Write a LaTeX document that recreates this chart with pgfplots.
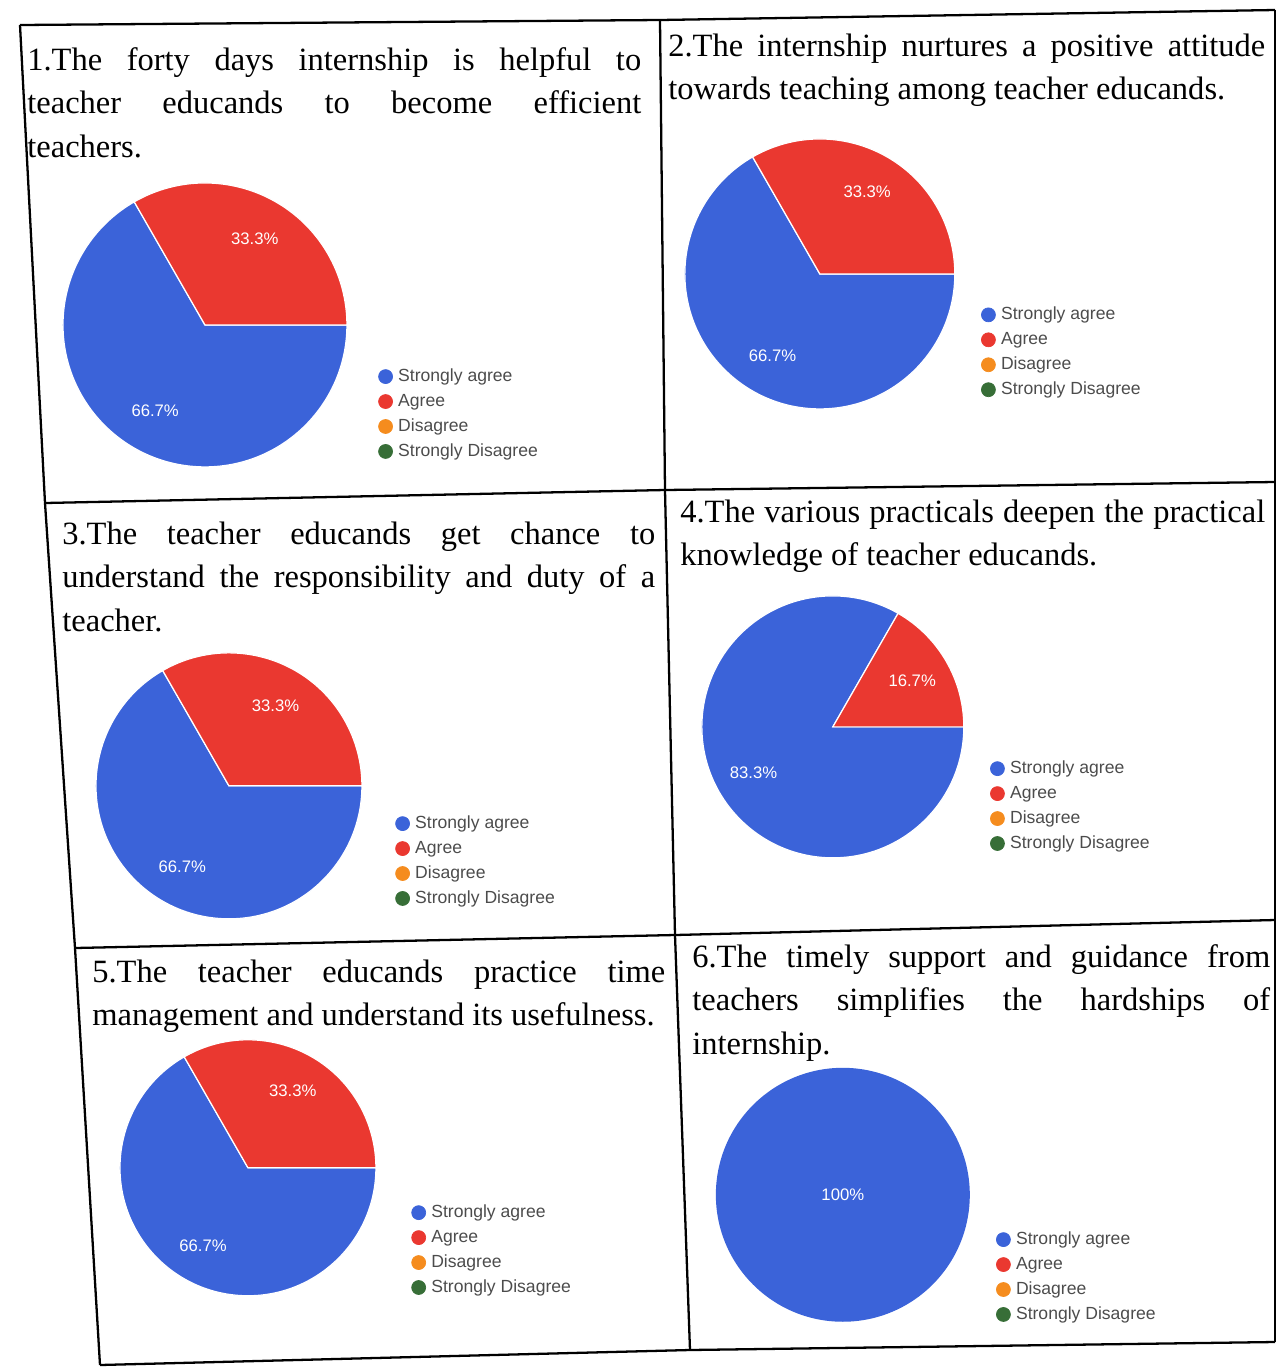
\documentclass[border=0pt]{standalone}
\usepackage{pgfplots}
\pgfplotsset{compat=1.18}
\usepackage{pgfplotstable}
\usepackage{fontspec}
\setmainfont{Liberation Serif}
\newfontfamily\lsans{Liberation Sans}

\definecolor{gblue}{RGB}{59,99,217}
\definecolor{gred}{RGB}{234,56,48}
\definecolor{gorange}{RGB}{245,140,30}
\definecolor{ggreen}{RGB}{55,110,55}

% percentage of answers per statement
\pgfplotstableread{
cat q1   q2   q3   q4   q5   q6
SA  66.7 66.7 66.7 83.3 66.7 100
A   33.3 33.3 33.3 16.7 33.3 0
D   0    0    0    0    0    0
SD  0    0    0    0    0    0
}\pietable

% slices start at 3 o'clock and run clockwise
\newcommand\drawpie[2]{%
 \pgfplotsextra{%
  \gdef\curang{0}%
  \foreach \rw/\clr in {0/gblue,1/gred,2/gorange,3/ggreen}{%
   \pgfplotstablegetelem{\rw}{#1}\of\pietable
   \let\val\pgfplotsretval
   \pgfmathsetmacro\sweep{3.6*\val}%
   \ifdim\sweep pt>0pt
    \pgfmathsetmacro\endang{\curang-\sweep}%
    \pgfmathsetmacro\midang{\curang-\sweep/2}%
    \ifdim\sweep pt<359pt
     \fill[\clr,draw=white,line width=0.7pt] (axis cs:0,0) -- ++(\curang:#2cm)
        arc[start angle=\curang,end angle=\endang,radius=#2cm] -- cycle;
     \pgfmathsetmacro\lx{0.7*cos(\midang)}%
     \pgfmathsetmacro\ly{0.7*sin(\midang)}%
    \else
     \fill[\clr] (axis cs:0,0) -- ++(\curang:#2cm)
        arc[start angle=\curang,end angle=\endang,radius=#2cm] -- cycle;
     \def\lx{0}\def\ly{0}%
    \fi
    \node[text=white,font=\lsans\fontsize{9.5}{11}\selectfont] at (axis cs:\lx,\ly) {\val\%};
    \xdef\curang{\endang}%
   \fi
  }%
 }%
}

\pgfplotsset{
 pie/.style={hide axis, xmin=-1, xmax=1, ymin=-1, ymax=1, anchor=center,
  legend image code/.code={\fill (0.14cm,0cm) circle (0.14cm);},
  legend style={draw=none, fill=none, inner sep=0pt, anchor=north west,
   row sep=4.6pt, column sep=1pt, text=black!70,
   font=\lsans\fontsize{10}{12}\selectfont,
   nodes={inner ysep=0pt, text height=7.4pt, text depth=2.2pt},
   cells={anchor=west}},
 },
}
\newcommand\pielegend{%
 \addlegendimage{gblue}\addlegendimage{gred}\addlegendimage{gorange}\addlegendimage{ggreen}%
 \legend{Strongly agree,Agree,Disagree,Strongly Disagree}}

\begin{document}
\begin{tikzpicture}
\begin{scope}[x=0.02cm,y=-0.02cm]
\useasboundingbox (0,0) rectangle (1278,1367);
\tikzset{txt/.style={inner sep=0pt, anchor=base west, align=justify,
  font=\fontsize{18.5}{24.8}\selectfont}}
% table rules
\draw[line width=1.3pt] (20,25) -- (45,503) -- (75,948) -- (100,1365);
\draw[line width=1.3pt] (660,20) -- (665,490) -- (675,935) -- (690,1350);
\draw[line width=1.3pt] (1275,10) -- (1275,1342);
\draw[line width=1.3pt] (20,25) -- (660,20) -- (1275,10);
\draw[line width=1.3pt] (45,503) -- (665,490) -- (1275,482);
\draw[line width=1.3pt] (75,948) -- (675,935) -- (1275,920);
\draw[line width=1.3pt] (100,1365) -- (690,1350) -- (1275,1342);
% statements
\node[txt, text width=12.28cm] at (27,70) {1.The forty days internship is helpful to\linebreak teacher educands to become efficient\linebreak teachers.};
\node[txt, text width=11.94cm] at (668,56) {2.The internship nurtures a positive attitude\linebreak towards teaching among teacher educands.};
\node[txt, text width=11.86cm] at (62,544) {3.The teacher educands get chance to\linebreak understand the responsibility and duty of a\linebreak teacher.};
\node[txt, text width=11.70cm] at (680,522) {4.The various practicals deepen the practical\linebreak knowledge of teacher educands.};
\node[txt, text width=11.46cm] at (92,982) {5.The teacher educands practice time\linebreak management and understand its usefulness.};
\node[txt, text width=11.56cm] at (692,967) {6.The timely support and guidance from\linebreak teachers simplifies the hardships of\linebreak internship.};
\end{scope}

\begin{axis}[pie, x=2.84cm, y=2.84cm, at={(4.10cm,-6.50cm)}, legend style={at={(1.109,0.349)}}]
\pielegend
\drawpie{q1}{2.84}
\end{axis}
\begin{axis}[pie, x=2.70cm, y=2.70cm, at={(16.40cm,-5.48cm)}, legend style={at={(1.096,0.381)}}]
\pielegend
\drawpie{q2}{2.70}
\end{axis}
\begin{axis}[pie, x=2.66cm, y=2.66cm, at={(4.58cm,-15.72cm)}, legend style={at={(1.124,0.391)}}]
\pielegend
\drawpie{q3}{2.66}
\end{axis}
\begin{axis}[pie, x=2.62cm, y=2.62cm, at={(16.66cm,-14.54cm)}, legend style={at={(1.099,0.374)}}]
\pielegend
\drawpie{q4}{2.62}
\end{axis}
\begin{axis}[pie, x=2.56cm, y=2.56cm, at={(4.96cm,-23.36cm)}, legend style={at={(1.137,0.359)}}]
\pielegend
\drawpie{q5}{2.56}
\end{axis}
\begin{axis}[pie, x=2.54cm, y=2.54cm, at={(16.86cm,-23.90cm)}, legend style={at={(1.102,0.358)}}]
\pielegend
\drawpie{q6}{2.54}
\end{axis}
\end{tikzpicture}
\end{document}
